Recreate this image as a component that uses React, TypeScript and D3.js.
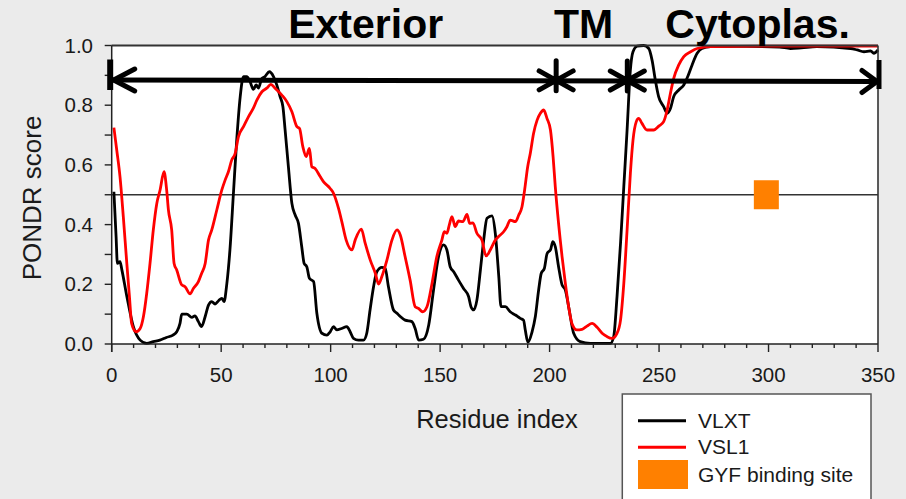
import React from "react";
import * as d3 from "d3";

// PONDR VLXT predictor: residue positions and disorder scores
const vlxtResidues = [1, 2, 2.6, 3.8, 4.6, 6.9, 9.9, 13, 16, 19, 22, 25, 28, 29.7, 31.2, 32, 34.3, 36.6, 38, 39.6, 41, 42.7, 44.2, 45.7, 47.2, 48.8, 50.3, 51.3, 52.6, 54, 55.6, 57.1, 58.7, 60.2, 61.7, 63.2, 64.7, 66, 67, 68.6, 70, 72, 73.9, 75.4, 76.9, 78.2, 79.2, 80.7, 82.3, 83.8, 85.3, 86.8, 87.9, 89.1, 90.3, 92.2, 93.7, 96, 98.3, 99.8, 101.3, 102.8, 105, 107.4, 108.9, 110.4, 112.7, 115, 116.5, 118, 119.6, 121.1, 123.4, 124.9, 126.4, 128.7, 130.3, 131.8, 134, 137.1, 138.6, 140.2, 142.4, 144.8, 147, 149.3, 151.6, 153.1, 154.6, 156.2, 158.4, 160.7, 163, 164.1, 165.3, 166.8, 168.4, 169.9, 171.4, 173.7, 175.2, 176.8, 177.8, 179.8, 182, 184.4, 186.6, 188.1, 188.9, 190.1, 192, 193.5, 195, 196.2, 197.6, 198.9, 200.4, 201.5, 202.6, 204.1, 205.7, 207.2, 208.7, 211, 214, 218.6, 227.8, 229.3, 230.8, 232.4, 233.9, 235.4, 236.9, 238.1, 240, 243, 245.3, 246.8, 248.3, 249.8, 252.1, 253.7, 255.2, 256.7, 259, 261.3, 263.1, 265.1, 267.4, 269.6, 273.5, 290, 305, 310, 315, 322, 337.5, 340.5, 343.6, 346.6, 348.1, 350];
const vlxtScores = [0.51, 0.36, 0.27, 0.276, 0.25, 0.16, 0.058, 0.013, 0.002, 0.008, 0.013, 0.022, 0.03, 0.041, 0.069, 0.1, 0.1, 0.089, 0.094, 0.075, 0.058, 0.092, 0.13, 0.142, 0.134, 0.145, 0.153, 0.142, 0.203, 0.315, 0.505, 0.683, 0.829, 0.896, 0.896, 0.879, 0.853, 0.868, 0.857, 0.89, 0.896, 0.912, 0.896, 0.868, 0.829, 0.795, 0.717, 0.594, 0.471, 0.432, 0.404, 0.326, 0.27, 0.259, 0.22, 0.209, 0.103, 0.036, 0.03, 0.041, 0.058, 0.047, 0.052, 0.058, 0.041, 0.019, 0.013, 0.013, 0.036, 0.114, 0.192, 0.242, 0.257, 0.253, 0.192, 0.114, 0.103, 0.092, 0.08, 0.075, 0.052, 0.013, 0.016, 0.064, 0.181, 0.293, 0.332, 0.315, 0.259, 0.242, 0.214, 0.186, 0.159, 0.125, 0.114, 0.147, 0.248, 0.348, 0.421, 0.429, 0.371, 0.226, 0.125, 0.125, 0.108, 0.097, 0.086, 0.08, 0.047, 0.006, 0.041, 0.092, 0.181, 0.237, 0.253, 0.304, 0.315, 0.343, 0.326, 0.259, 0.198, 0.181, 0.125, 0.036, 0.008, 0.002, 0.002, 0.025, 0.159, 0.337, 0.527, 0.717, 0.918, 0.979, 0.998, 1.0, 0.99, 0.951, 0.884, 0.829, 0.795, 0.773, 0.789, 0.829, 0.851, 0.868, 0.896, 0.935, 0.974, 0.99, 0.996, 0.997, 0.995, 0.99, 0.992, 0.996, 0.99, 0.985, 0.979, 0.982, 0.974, 0.985];

// PONDR VSL1 predictor: residue positions and disorder scores
const vsl1Residues = [1, 2.3, 3.8, 5.3, 6.9, 8.1, 9.1, 11.1, 13, 14.5, 16, 17.5, 19, 20.6, 22.1, 23.9, 25.1, 25.9, 27.4, 28.5, 29.7, 32, 33.5, 35.8, 37.3, 39.6, 41.1, 42.7, 44.2, 45.7, 48, 50.3, 51.8, 53.3, 54.8, 56.4, 57.9, 60.2, 62.5, 64.7, 66.3, 68.6, 70.8, 72.7, 74.6, 77.7, 80, 82.3, 84.6, 85.8, 87.3, 88.8, 90.3, 91.4, 92.9, 95.2, 96.7, 99.8, 101.3, 103.6, 105.1, 107.1, 109.7, 111.2, 114, 115.8, 118.1, 120.4, 121.9, 123.4, 125.7, 128, 130.3, 131.8, 134, 136.3, 138.6, 140.2, 142, 144, 146.3, 148.5, 150.8, 151.9, 153.1, 154.2, 155.4, 156.9, 158.4, 160.4, 162.3, 163.5, 165, 166.8, 169.1, 171, 172.9, 175.2, 176.7, 179, 180.5, 182, 184.4, 185.9, 187.4, 188.6, 190, 191.2, 192.7, 194.3, 195.8, 197.3, 198.8, 200.4, 201.6, 202.6, 204.1, 205.7, 207.2, 208.7, 210.2, 212.5, 214.8, 217.1, 219.4, 221.7, 224, 226.2, 228.5, 230.8, 232.4, 233.9, 235.4, 236.9, 238.1, 239.6, 240.7, 242.2, 244.5, 247.6, 249.9, 252.1, 253.7, 255.2, 256.7, 259, 261.3, 264.4, 267.4, 273.5, 300, 350];
const vsl1Scores = [0.725, 0.65, 0.56, 0.427, 0.27, 0.159, 0.069, 0.041, 0.052, 0.092, 0.17, 0.27, 0.382, 0.471, 0.516, 0.577, 0.516, 0.449, 0.382, 0.27, 0.248, 0.198, 0.192, 0.168, 0.186, 0.209, 0.237, 0.27, 0.348, 0.382, 0.449, 0.516, 0.549, 0.577, 0.616, 0.639, 0.695, 0.728, 0.762, 0.79, 0.817, 0.845, 0.857, 0.87, 0.857, 0.834, 0.812, 0.778, 0.728, 0.722, 0.661, 0.628, 0.655, 0.594, 0.588, 0.561, 0.544, 0.521, 0.505, 0.454, 0.41, 0.348, 0.315, 0.348, 0.385, 0.337, 0.281, 0.237, 0.201, 0.226, 0.281, 0.348, 0.382, 0.365, 0.293, 0.214, 0.125, 0.119, 0.108, 0.125, 0.203, 0.293, 0.348, 0.376, 0.371, 0.399, 0.427, 0.393, 0.412, 0.41, 0.434, 0.404, 0.406, 0.371, 0.348, 0.295, 0.315, 0.348, 0.36, 0.376, 0.393, 0.415, 0.41, 0.432, 0.46, 0.516, 0.594, 0.639, 0.706, 0.75, 0.773, 0.784, 0.756, 0.717, 0.628, 0.527, 0.404, 0.293, 0.203, 0.125, 0.069, 0.047, 0.049, 0.06, 0.069, 0.056, 0.036, 0.025, 0.019, 0.036, 0.08, 0.203, 0.382, 0.572, 0.683, 0.745, 0.756, 0.739, 0.717, 0.717, 0.73, 0.745, 0.784, 0.84, 0.89, 0.935, 0.963, 0.979, 0.99, 0.996, 0.998, 0.998];

// Topology: domain boundaries (residues) and labels
const domainBounds = [0, 203, 235.5, 350];
const domainLabels = ["Exterior", "TM", "Cytoplas."];
const domainLabelResidues = [116, 215.5, 295];
const topologyLevel = [0.8844, 0.8794]; // score level at residue 0 and 350

// GYF binding site marker
const gyfResidue = 299;
const gyfScore = 0.5;

const threshold = 0.5;

const xTicks = [0, 50, 100, 150, 200, 250, 300, 350];
const yTicks = [0, 0.2, 0.4, 0.6, 0.8, 1.0];

const legendLabels = ["VLXT", "VSL1", "GYF binding site"];

const FONT = "'Liberation Sans', Arial, Helvetica, sans-serif";

export default function App() {
  const W = 906;
  const H = 499;
  const x = d3.scaleLinear().domain([0, 350]).range([111.7, 878]);
  const y = d3.scaleLinear().domain([0, 1]).range([344, 45.5]);

  const line = d3
    .line<[number, number]>()
    .x((d) => x(d[0]))
    .y((d) => y(d[1]))
    .curve(d3.curveMonotoneX);

  const vlxt = vlxtResidues.map((r, i) => [r, vlxtScores[i]] as [number, number]);
  const vsl1 = vsl1Residues.map((r, i) => [r, vsl1Scores[i]] as [number, number]);

  const minorX = d3.range(0, 351, 10);
  const minorY = d3.range(0, 1.0001, 0.1);

  const [x0, x1] = x.domain();
  const levelAt = d3.scaleLinear().domain([x0, x1]).range(topologyLevel);
  const ly = (r: number) => y(levelAt(r));

  const starPath = (cx: number, cy: number) =>
    `M${cx},${cy - 20}L${cx},${cy + 10}` +
    `M${cx - 17},${cy - 10}L${cx + 17},${cy + 9}` +
    `M${cx - 17},${cy + 9}L${cx + 17},${cy - 10}`;

  const leftX = x(domainBounds[0]);
  const rightX = x(domainBounds[domainBounds.length - 1]);

  return (
    <svg
      width={W}
      height={H}
      style={{ position: "fixed", left: 0, top: 0, display: "block" }}
      fontFamily={FONT}
    >
      <rect x={0} y={0} width={W} height={H} fill="#ebebeb" />
      {/* plot area */}
      <rect x={x(0)} y={y(1)} width={x(350) - x(0)} height={y(0) - y(1)} fill="#ffffff" />
      <line x1={x(0)} x2={x(350)} y1={y(threshold)} y2={y(threshold)} stroke="#333" strokeWidth={1.4} />

      {/* series */}
      <path d={line(vlxt) || ""} fill="none" stroke="#000" strokeWidth={2.8} strokeLinejoin="round" />
      <path d={line(vsl1) || ""} fill="none" stroke="#ff0000" strokeWidth={2.8} strokeLinejoin="round" />

      {/* frame */}
      <line x1={x(0)} x2={x(350)} y1={y(1)} y2={y(1)} stroke="#333" strokeWidth={1.8} />
      <line x1={x(350)} x2={x(350)} y1={y(1)} y2={y(0)} stroke="#333" strokeWidth={1.6} />
      <line x1={x(0)} x2={x(350)} y1={y(0)} y2={y(0)} stroke="#222" strokeWidth={1.5} />
      <line x1={x(0)} x2={x(0)} y1={y(1)} y2={y(0) + 8} stroke="#222" strokeWidth={1.5} />

      {/* y ticks */}
      {minorY.map((v) => (
        <line key={"yt" + v} x1={x(0) - 7} x2={x(0)} y1={y(v)} y2={y(v)} stroke="#222" strokeWidth={1.4} />
      ))}
      {yTicks.map((v) => (
        <text key={"yl" + v} x={93} y={y(v)} dy="0.35em" textAnchor="end" fontSize={20.5} fill="#1a1a1a">
          {v.toFixed(1)}
        </text>
      ))}

      {/* x ticks */}
      {minorX.map((v) => (
        <line
          key={"xt" + v}
          x1={x(v)}
          x2={x(v)}
          y1={y(0)}
          y2={y(0) + (v % 50 === 0 ? 8 : 4)}
          stroke="#222"
          strokeWidth={1.4}
        />
      ))}
      {xTicks.map((v) => (
        <text key={"xl" + v} x={x(v)} y={382} textAnchor="middle" fontSize={20.5} fill="#1a1a1a">
          {v}
        </text>
      ))}

      {/* axis titles */}
      <text x={497} y={428} textAnchor="middle" fontSize={25.5} fill="#1a1a1a">
        Residue index
      </text>
      <text
        transform={`translate(40.5,198) rotate(-90)`}
        textAnchor="middle"
        fontSize={26}
        fill="#1a1a1a"
      >
        PONDR score
      </text>

      {/* topology annotation */}
      <g stroke="#000" strokeWidth={5} fill="none" strokeLinecap="round" strokeLinejoin="round">
        <line x1={leftX + 1} y1={ly(0)} x2={rightX} y2={ly(350)} strokeLinecap="butt" />
        <line x1={leftX - 1.5} x2={leftX - 1.5} y1={59.5} y2={90} strokeWidth={6} strokeLinecap="butt" />
        <path d={`M${leftX + 23},${ly(0) - 11}L${leftX + 2},${ly(0)}L${leftX + 23},${ly(0) + 11}`} />
        <line x1={rightX + 1} x2={rightX + 1} y1={60} y2={89} strokeWidth={5} strokeLinecap="butt" />
        <path d={`M${rightX - 16},${ly(350) - 11}L${rightX - 1},${ly(350)}L${rightX - 16},${ly(350) + 11}`} />
        {domainBounds.slice(1, -1).map((b) => (
          <path key={"star" + b} d={starPath(x(b), ly(b))} />
        ))}
      </g>

      {/* GYF binding site */}
      <rect x={x(gyfResidue) - 12.5} y={y(gyfScore) - 14.5} width={25} height={29} fill="#ff8000" />

      {/* domain titles */}
      {domainLabels.map((t, i) => (
        <text
          key={t}
          x={x(domainLabelResidues[i])}
          y={37.5}
          textAnchor="middle"
          fontSize={41}
          fontWeight="bold"
          fill="#000"
        >
          {t}
        </text>
      ))}

      {/* legend */}
      <rect x={622.3} y={394} width={248.7} height={130} fill="#fff" stroke="#555" strokeWidth={1.5} />
      <line x1={638} x2={686} y1={420.7} y2={420.7} stroke="#000" strokeWidth={3} />
      <line x1={638} x2={686} y1={447.3} y2={447.3} stroke="#ff0000" strokeWidth={3} />
      <rect x={638} y={460} width={50} height={29} fill="#ff8000" />
      {legendLabels.map((t, i) => (
        <text key={t} x={698} y={[427.7, 454.3, 481.7][i]} fontSize={21} fill="#1a1a1a">
          {t}
        </text>
      ))}
    </svg>
  );
}
